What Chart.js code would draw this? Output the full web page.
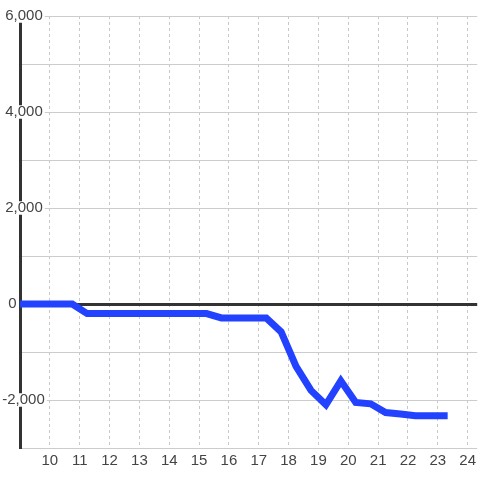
<!DOCTYPE html>
<html><head><meta charset="utf-8">
<script src="https://cdn.jsdelivr.net/npm/chart.js@4/dist/chart.umd.min.js"></script>
<style>html,body{margin:0;padding:0;background:#fff}#wrap{width:480px;height:480px;position:relative}</style>
</head><body><div id="wrap"><canvas id="c"></canvas></div>
<script>
const hours = [8.75, 9.25, 9.75, 10.25, 10.75, 11.25, 11.75, 12.25, 12.75, 13.25, 13.75, 14.25, 14.75, 15.25, 15.75, 16.25, 16.75, 17.25, 17.75, 18.25, 18.75, 19.25, 19.75, 20.25, 20.75, 21.25, 21.75, 22.25, 22.75, 23.33];
const values = [0, 0, 0, 0, 0, -200, -200, -200, -200, -200, -200, -200, -200, -200, -290, -290, -290, -290, -580, -1300, -1800, -2100, -1600, -2050, -2080, -2260, -2290, -2330, -2330, -2330];
const xTicks = [10, 11, 12, 13, 14, 15, 16, 17, 18, 19, 20, 21, 22, 23, 24];
const yTicks = [-3000, -2000, -1000, 0, 1000, 2000, 3000, 4000, 5000, 6000];
const yLabelled = [-2000, 0, 2000, 4000, 6000];

const FONT = {family: '"Liberation Sans", Arial, sans-serif', size: 15, lineHeight: 0.9};
const TXT = '#444';
const THIN = '\u2009';

function yLabel(v) {
  if (!yLabelled.includes(v)) return '';
  const s = v.toLocaleString('en-US');
  if (v < 0) return s;
  if (v === 0) return THIN + THIN + s;
  return THIN + s;
}

new Chart(document.getElementById('c'), {
  type: 'line',
  data: {
    datasets: [{
      data: hours.map((h, i) => ({x: h, y: values[i]})),
      borderColor: '#2242ff',
      borderWidth: 7,
      pointRadius: 0,
      tension: 0,
      fill: false,
      borderCapStyle: 'butt',
      borderJoinStyle: 'miter'
    }]
  },
  options: {
    responsive: true,
    maintainAspectRatio: false,
    animation: false,
    layout: {padding: {top: 16, left: 0, right: 0, bottom: 0}},
    plugins: {legend: {display: false}, tooltip: {enabled: false}},
    scales: {
      x: {
        type: 'linear', min: 9, max: 24.32,
        afterBuildTicks: s => { s.ticks = xTicks.map(v => ({value: v})); },
        afterFit: s => { s.height = 32; },
        grid: {color: '#c8c8c8', lineWidth: 1, drawTicks: false},
        border: {display: false, dash: [3, 3]},
        ticks: {padding: 4, color: TXT, font: {family: FONT.family, size: 15}, maxRotation: 0, autoSkip: false,
                callback: v => String(v)}
      },
      y: {
        type: 'linear', position: 'left', min: -3000, max: 6000,
        afterBuildTicks: s => { s.ticks = yTicks.map(v => ({value: v})); },
        afterFit: s => { s.width = 20; },
        grid: {
          color: c => (c.tick && c.tick.value === 0) ? '#333' : '#cccccc',
          lineWidth: c => (c.tick && c.tick.value === 0) ? 3 : 1,
          drawTicks: false
        },
        border: {display: true, color: '#333', width: 3},
        ticks: {
          mirror: true,
          padding: -17.8, color: TXT, font: FONT,
          showLabelBackdrop: c => yLabelled.includes(c.tick.value) && c.tick.value !== 0,
          backdropColor: '#ffffff',
          backdropPadding: {left: 2, right: 2, top: 0, bottom: 0},
          callback: v => yLabel(v)
        }
      }
    }
  }
});
</script>
</body></html>
